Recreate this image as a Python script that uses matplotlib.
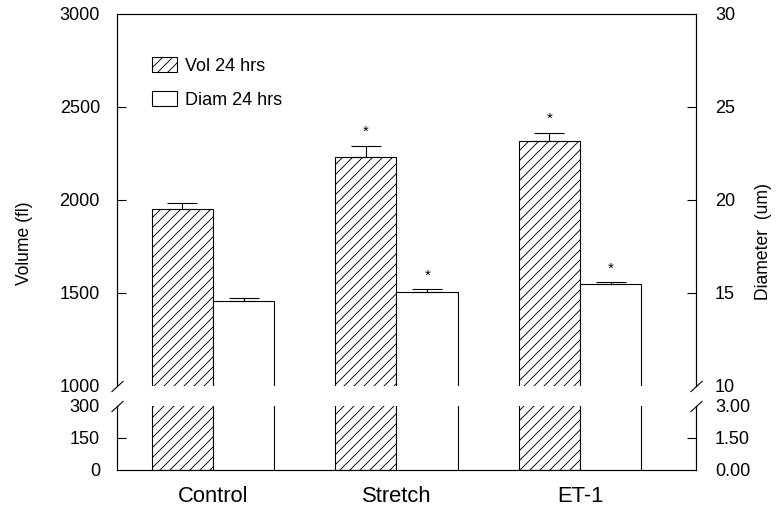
import matplotlib
matplotlib.use('Agg')
import matplotlib.pyplot as plt
from matplotlib.patches import Patch
import numpy as np

# ---- data ----
groups = ['Control', 'Stretch', 'ET-1']
vol_mean = [1950, 2232, 2318]
vol_err = [30, 57, 42]
diam_mean = [14.57, 15.04, 15.48]
diam_err = [0.12, 0.15, 0.11]
vol_sig = [False, True, True]
diam_sig = [False, True, True]
vol_ticks_top = [1000, 1500, 2000, 2500, 3000]
vol_ticks_bot = [0, 150, 300]
diam_ticks_top = [10, 15, 20, 25, 30]
diam_ticks_bot = [0.0, 1.5, 3.0]
legend_labels = ['Vol 24 hrs', 'Diam 24 hrs']

DPI = 60
PX = 72.0 / DPI  # points per pixel

plt.rcParams['font.family'] = ['Liberation Sans', 'DejaVu Sans']
plt.rcParams['hatch.linewidth'] = 0.9 * PX
plt.rcParams['hatch.color'] = '#222222'

fig = plt.figure(figsize=(776 / DPI, 512 / DPI), dpi=DPI)
L = 117 / 776
W = 579 / 776
ax_t = fig.add_axes([L, (512 - 385.5) / 512, W, (385.5 - 14) / 512])
ax_b = fig.add_axes([L, (512 - 470) / 512, W, (470 - 405.5) / 512])
ax_tr = ax_t.twinx()
ax_br = ax_b.twinx()

x = np.arange(len(groups))
bw = 0.335
xlim = (-0.523, 2.632)
lw = 1.1 * PX
HATCH = '//'

for ax in (ax_t, ax_b):
    ax.bar(x - bw / 2, vol_mean, width=bw, facecolor='white', edgecolor='black',
           hatch=HATCH, linewidth=lw, zorder=2)
for ax in (ax_tr, ax_br):
    ax.bar(x + bw / 2, diam_mean, width=bw, facecolor='white', edgecolor='black',
           linewidth=lw, zorder=2)

# error bars (upper only)
ax_t.errorbar(x - bw / 2, vol_mean, yerr=[np.zeros(len(x)), vol_err], fmt='none',
              ecolor='black', elinewidth=lw, capsize=15 * PX, capthick=lw, zorder=3)
ax_tr.errorbar(x + bw / 2, diam_mean, yerr=[np.zeros(len(x)), diam_err], fmt='none',
               ecolor='black', elinewidth=lw, capsize=15 * PX, capthick=lw, zorder=3)

for xi, m, e, s in zip(x - bw / 2, vol_mean, vol_err, vol_sig):
    if s:
        ax_t.annotate('*', xy=(xi, m + e), xytext=(0, 7 * PX), textcoords='offset points',
                      ha='center', va='bottom', fontsize=15 * PX)
for xi, m, e, s in zip(x + bw / 2, diam_mean, diam_err, diam_sig):
    if s:
        ax_tr.annotate('*', xy=(xi, m + e), xytext=(0, 6 * PX), textcoords='offset points',
                       ha='center', va='bottom', fontsize=15 * PX)

# limits
for ax in (ax_t, ax_b, ax_tr, ax_br):
    ax.set_xlim(*xlim)
ax_t.set_ylim(vol_ticks_top[0], vol_ticks_top[-1])
ax_b.set_ylim(vol_ticks_bot[0], vol_ticks_bot[-1])
ax_tr.set_ylim(diam_ticks_top[0], diam_ticks_top[-1])
ax_br.set_ylim(diam_ticks_bot[0], diam_ticks_bot[-1])

# spines
for ax in (ax_t, ax_tr):
    ax.spines['bottom'].set_visible(False)
for ax in (ax_b, ax_br):
    ax.spines['top'].set_visible(False)
for ax in (ax_t, ax_b, ax_tr, ax_br):
    for sp in ax.spines.values():
        sp.set_linewidth(lw)

# ticks
tick_fs = 18 * PX
ax_t.set_yticks(vol_ticks_top, labels=[str(v) for v in vol_ticks_top])
ax_b.set_yticks(vol_ticks_bot, labels=[str(v) for v in vol_ticks_bot])
ax_tr.set_yticks(diam_ticks_top, labels=[str(v) for v in diam_ticks_top])
ax_br.set_yticks(diam_ticks_bot, labels=[f'{v:.2f}' for v in diam_ticks_bot])
for ax in (ax_t, ax_b):
    ax.tick_params(axis='y', direction='in', length=9 * PX, width=lw, pad=17 * PX,
                   labelsize=tick_fs)
for ax in (ax_tr, ax_br):
    ax.tick_params(axis='y', direction='in', length=9 * PX, width=lw, pad=19 * PX,
                   labelsize=tick_fs)
ax_t.set_xticks([])
ax_b.set_xticks(x, labels=groups)
ax_b.tick_params(axis='x', length=0, pad=16 * PX, labelsize=22 * PX)

# hide end ticks
for ax, ticks in ((ax_t, vol_ticks_top), (ax_b, vol_ticks_bot),
                  (ax_tr, diam_ticks_top), (ax_br, diam_ticks_bot)):
    mt = ax.yaxis.get_major_ticks()
    for i in (0, len(ticks) - 1):
        if i < len(mt):
            mt[i].tick1line.set_visible(False)
            mt[i].tick2line.set_visible(False)

# break marks
bk = dict(marker=[(-1, -0.92), (1, 0.92)], markersize=12 * PX, linestyle='none',
          color='black', mec='black', mew=lw, clip_on=False)
ax_t.plot([0, 1], [0, 0], transform=ax_t.transAxes, **bk)
ax_b.plot([0, 1], [1, 1], transform=ax_b.transAxes, **bk)

# axis labels
fig.text(25 / 776, 1 - 243 / 512, 'Volume (fl)', rotation=90, ha='center', va='center',
         fontsize=17.5 * PX)
fig.text(763 / 776, 1 - 242 / 512, 'Diameter  (um)', rotation=90, ha='center', va='center',
         fontsize=17.5 * PX)

# legend
handles = [Patch(facecolor='white', edgecolor='black', hatch=HATCH, linewidth=lw),
           Patch(facecolor='white', edgecolor='black', linewidth=lw)]
ax_tr.legend(handles, legend_labels, loc='upper left', bbox_to_anchor=(0.06, 0.884),
             frameon=False, fontsize=18 * PX, handlelength=1.39, handleheight=0.89,
             handletextpad=0.44, labelspacing=0.9, borderpad=0, borderaxespad=0)

fig.savefig('out.png', dpi=DPI)
